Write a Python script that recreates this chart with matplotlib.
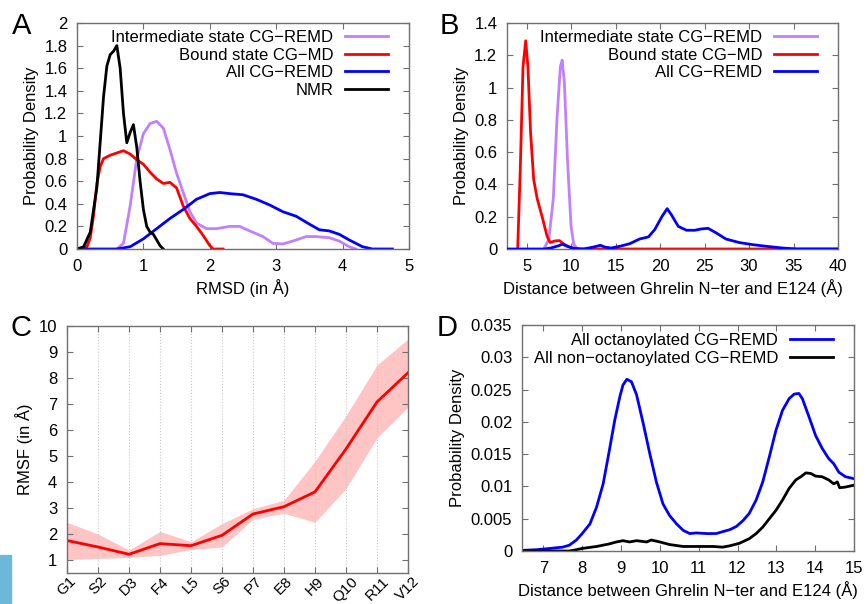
import matplotlib.pyplot as plt
import matplotlib.patches as mpatches

plt.rcParams['font.family'] = ['Liberation Sans', 'DejaVu Sans']
plt.rcParams['font.size'] = 12

# ---- panel A: RMSD distributions
a_nmr_x = [0, 0.1, 0.2, 0.3, 0.35, 0.4, 0.45, 0.5, 0.55, 0.6, 0.65, 0.7, 0.75, 0.8, 0.85, 0.9, 0.95, 1.0, 1.05, 1.1, 1.15, 1.2, 1.25, 1.3]
a_nmr_y = [0, 0.02, 0.15, 0.55, 0.95, 1.35, 1.62, 1.72, 1.75, 1.8, 1.6, 1.2, 0.94, 1.03, 1.1, 0.9, 0.6, 0.35, 0.2, 0.15, 0.13, 0.08, 0.03, 0]
a_bound_x = [0.05, 0.15, 0.2, 0.25, 0.3, 0.35, 0.4, 0.5, 0.6, 0.7, 0.8, 0.9, 1.0, 1.1, 1.2, 1.3, 1.4, 1.5, 1.6, 1.7, 1.8, 1.9, 2.0, 2.05, 2.2]
a_bound_y = [0, 0.02, 0.1, 0.3, 0.58, 0.73, 0.8, 0.83, 0.85, 0.87, 0.84, 0.79, 0.75, 0.68, 0.62, 0.58, 0.59, 0.54, 0.38, 0.27, 0.2, 0.12, 0.03, 0.0, 0]
a_inter_x = [0.6, 0.7, 0.8, 0.9, 1.0, 1.1, 1.2, 1.3, 1.4, 1.5, 1.6, 1.7, 1.8, 1.95, 2.1, 2.3, 2.45, 2.6, 2.8, 2.95, 3.1, 3.25, 3.45, 3.6, 3.8, 3.95, 4.1, 4.2]
a_inter_y = [0, 0.05, 0.38, 0.8, 1.02, 1.11, 1.13, 1.07, 0.88, 0.67, 0.5, 0.33, 0.23, 0.18, 0.18, 0.2, 0.2, 0.16, 0.11, 0.05, 0.045, 0.07, 0.11, 0.11, 0.1, 0.07, 0.02, 0]
a_all_x = [0, 0.6, 0.8, 1.0, 1.2, 1.4, 1.6, 1.8, 2.0, 2.15, 2.3, 2.5, 2.7, 2.9, 3.1, 3.3, 3.5, 3.65, 3.8, 3.95, 4.1, 4.3, 4.45, 4.75]
a_all_y = [0, 0, 0.02, 0.09, 0.18, 0.27, 0.35, 0.44, 0.49, 0.5, 0.49, 0.48, 0.44, 0.39, 0.33, 0.29, 0.22, 0.17, 0.16, 0.13, 0.08, 0.02, 0, 0]

# ---- panel B: distance distributions
b_bound_x = [4.0, 4.3, 4.6, 4.9, 5.15, 5.45, 5.8, 6.2, 6.75, 7.3, 7.65, 8.2, 8.7, 9.2, 9.9, 10.7, 40]
b_bound_y = [0, 0.51, 1.13, 1.29, 1.13, 0.72, 0.43, 0.31, 0.2, 0.08, 0.04, 0.05, 0.052, 0.03, 0.01, 0, 0]
b_inter_x = [6.95, 7.5, 8.0, 8.43, 8.8, 9.0, 9.25, 9.6, 10.0, 10.3, 10.7]
b_inter_y = [0, 0.06, 0.31, 0.82, 1.13, 1.17, 1.03, 0.55, 0.14, 0.03, 0]
b_all_x = [2.8, 7.0, 7.7, 8.6, 9.0, 9.55, 10.3, 11.4, 12.5, 13.3, 13.8, 14.5, 15.5, 16.6, 17.7, 18.7, 19.4, 20.2, 20.8, 21.3, 22.05,
           22.98, 23.9, 24.6, 25.4, 26.3, 27.4, 28.9, 30.4, 31.9, 33.8, 35.3, 40]
b_all_y = [0, 0, 0.006, 0.02, 0.03, 0.017, 0.004, 0, 0.012, 0.023, 0.012, 0.006, 0.017, 0.033, 0.062, 0.075, 0.12, 0.2, 0.25, 0.21, 0.14,
           0.116, 0.116, 0.124, 0.128, 0.1, 0.062, 0.04, 0.027, 0.017, 0.006, 0, 0]

# ---- panel C: RMSF per residue
residues = ['G1', 'S2', 'D3', 'F4', 'L5', 'S6', 'P7', 'E8', 'H9', 'Q10', 'R11', 'V12']
rmsf = [1.75, 1.5, 1.22, 1.63, 1.55, 1.95, 2.77, 3.05, 3.62, 5.27, 7.08, 8.2]
rmsf_hi = [2.45, 2.0, 1.38, 2.1, 1.7, 2.4, 2.97, 3.3, 4.8, 6.55, 8.5, 9.5]
rmsf_lo = [1.02, 1.06, 1.1, 1.18, 1.4, 1.5, 2.57, 2.8, 2.45, 3.75, 5.7, 6.88]

# ---- panel D: octanoylated vs non-octanoylated
d_oct_x = [6.45, 6.83, 7.17, 7.5, 7.67, 7.85, 8.0, 8.2, 8.37, 8.54, 8.7, 8.84, 8.97, 9.05, 9.15, 9.27, 9.4, 9.57, 9.74, 9.91, 10.08,
           10.25, 10.43, 10.6, 10.77, 10.94, 11.2, 11.45, 11.62, 11.8, 11.97, 12.14, 12.3, 12.48, 12.65, 12.82, 12.99, 13.16, 13.33,
           13.46, 13.58, 13.67, 13.84, 14.01, 14.18, 14.35, 14.48, 14.61, 14.78, 15.0]
d_oct_y = [0.0001, 0.0002, 0.0004, 0.0006, 0.0009, 0.0017, 0.0027, 0.0042, 0.0068, 0.0104, 0.0156, 0.0203, 0.0239, 0.0257, 0.0266,
           0.0262, 0.0242, 0.0198, 0.0151, 0.0107, 0.0073, 0.0055, 0.0042, 0.0032, 0.0027, 0.0028, 0.0027, 0.0027, 0.003, 0.0033,
           0.0038, 0.0047, 0.0058, 0.0079, 0.0107, 0.0146, 0.0187, 0.0218, 0.0236, 0.0243, 0.0244, 0.0236, 0.0208, 0.0179, 0.0159,
           0.0143, 0.0135, 0.0122, 0.0115, 0.0112]
d_non_x = [6.45, 7.67, 7.85, 8.0, 8.37, 8.7, 8.88, 9.05, 9.22, 9.4, 9.66, 9.78, 10.0, 10.25, 10.6, 10.94, 11.37, 11.62, 11.8, 12.05,
           12.3, 12.48, 12.65, 12.82, 12.99, 13.16, 13.33, 13.5, 13.63, 13.76, 13.89, 14.01, 14.18, 14.35, 14.48, 14.57, 14.63, 14.78, 15.0]
d_non_y = [0, 0, 0.0002, 0.0004, 0.0007, 0.0011, 0.0014, 0.0016, 0.0014, 0.0016, 0.0014, 0.0017, 0.0014, 0.001, 0.0007, 0.0007,
           0.0007, 0.0006, 0.0008, 0.0012, 0.0019, 0.0027, 0.0037, 0.005, 0.0063, 0.0079, 0.0097, 0.011, 0.0115, 0.0121, 0.012,
           0.0116, 0.0115, 0.011, 0.0104, 0.0107, 0.0098, 0.0099, 0.0102]

PURPLE = '#c080ff'
RED = '#ff0000'
BLUE = '#0000ff'
FRAME = '#707070'

W, H = 867, 604
fig = plt.figure(figsize=(W / 100, H / 100), dpi=100)


def box(l, r, t, b):
    return fig.add_axes([l / W, (H - b) / H, (r - l) / W, (b - t) / H])


def gnu_style(ax):
    for s in ax.spines.values():
        s.set_color(FRAME)
        s.set_linewidth(1)
    ax.tick_params(direction='in', top=True, right=True, length=4, color=FRAME, labelsize=12, pad=7)


def key(ax, handles, labels, x, y, sp=0.1):
    ax.legend(handles, labels, loc='upper right', bbox_to_anchor=(x, y), frameon=False, markerfirst=False,
              fontsize=12, handlelength=2.6, labelspacing=sp, borderaxespad=0, borderpad=0, handletextpad=0.7)


axA = box(77, 409, 23, 249)
axA.plot(a_inter_x, a_inter_y, color=PURPLE, lw=2, label='Intermediate state CG\u2212REMD')
axA.plot(a_bound_x, a_bound_y, color=RED, lw=2, label='Bound state CG\u2212MD')
axA.plot(a_all_x, a_all_y, color=BLUE, lw=2, label='All CG\u2212REMD')
axA.plot(a_nmr_x, a_nmr_y, color='black', lw=2, label='NMR')
axA.set_xlim(0, 5)
axA.set_ylim(0, 2)
axA.set_yticks([0, 0.2, 0.4, 0.6, 0.8, 1, 1.2, 1.4, 1.6, 1.8, 2])
axA.set_yticklabels(['0', '0.2', '0.4', '0.6', '0.8', '1', '1.2', '1.4', '1.6', '1.8', '2'])
axA.set_xlabel('RMSD (in \u00c5)', fontsize=12)
axA.set_ylabel('Probability Density', fontsize=12)
gnu_style(axA)
hA, lA = axA.get_legend_handles_labels()
key(axA, hA, lA, 0.937, 0.968, 0.15)

axB = box(507, 838, 23, 249)
axB.plot(b_bound_x, b_bound_y, color=RED, lw=2, label='Bound state CG\u2212MD', zorder=2)
axB.plot(b_inter_x, b_inter_y, color=PURPLE, lw=2, label='Intermediate state CG\u2212REMD', zorder=1)
axB.plot(b_all_x, b_all_y, color=BLUE, lw=2, label='All CG\u2212REMD', zorder=3)
axB.set_xlim(2.8, 40)
axB.set_ylim(0, 1.4)
axB.set_xticks([5, 10, 15, 20, 25, 30, 35, 40])
axB.set_yticks([0, 0.2, 0.4, 0.6, 0.8, 1, 1.2, 1.4])
axB.set_yticklabels(['0', '0.2', '0.4', '0.6', '0.8', '1', '1.2', '1.4'])
axB.set_xlabel('Distance between Ghrelin N\u2212ter and E124 (\u00c5)', fontsize=12)
axB.set_ylabel('Probability Density', fontsize=12)
gnu_style(axB)
hB, lB = axB.get_legend_handles_labels()
key(axB, [hB[1], hB[0], hB[2]], [lB[1], lB[0], lB[2]], 0.937, 0.968, 0.15)

axC = box(67, 408, 326, 573)
xs = list(range(len(residues)))
axC.fill_between(xs, rmsf_lo, rmsf_hi, color='#ffc4c4', lw=0)
axC.plot(xs, rmsf, color=RED, lw=2)
axC.set_xlim(0, len(residues) - 1)
axC.set_ylim(0.5, 10)
axC.set_yticks(range(1, 11))
axC.set_xticks(xs)
axC.set_ylabel('RMSF (in \u00c5)', fontsize=12)
axC.grid(axis='x', color='#c8c8c8', ls=':', lw=0.8)
gnu_style(axC)
axC.set_xticklabels(residues, rotation=45, ha='center', va='top', fontsize=11)
axC.tick_params(axis='x', pad=1)

axD = box(522, 854, 325, 551)
axD.plot(d_oct_x, d_oct_y, color=BLUE, lw=2, label='All octanoylated CG\u2212REMD')
axD.plot(d_non_x, d_non_y, color='black', lw=2, label='All non\u2212octanoylated CG\u2212REMD')
axD.set_xlim(6.45, 15)
axD.set_ylim(0, 0.035)
axD.set_xticks(range(7, 16))
axD.set_yticks([0, 0.005, 0.01, 0.015, 0.02, 0.025, 0.03, 0.035])
axD.set_yticklabels(['0', '0.005', '0.01', '0.015', '0.02', '0.025', '0.03', '0.035'])
axD.set_xlabel('Distance between Ghrelin N\u2212ter and E124 (\u00c5)', fontsize=12)
axD.set_ylabel('Probability Density', fontsize=12)
gnu_style(axD)
hD, lD = axD.get_legend_handles_labels()
key(axD, hD, lD, 0.937, 0.965, 0.2)

# panel letters
for txt, x, y in [('A', 22, 26), ('B', 449, 26), ('C', 21, 328), ('D', 447, 328)]:
    fig.text(x / W, 1 - y / H, txt, fontsize=21, ha='center', va='center')

# blue strip at lower-left edge
fig.patches.append(mpatches.Rectangle((0, 0), 11 / W, 49 / H, transform=fig.transFigure,
                                      color='#6bb8d8', zorder=0))

fig.savefig('out.png', dpi=100)
